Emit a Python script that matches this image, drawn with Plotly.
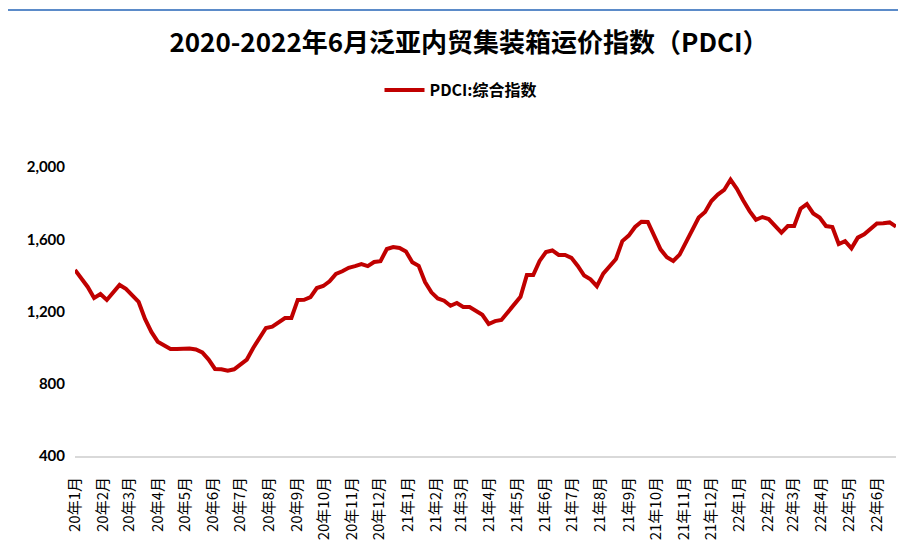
import pandas as pd
import plotly.graph_objects as go

title_text = "2020-2022年6月泛亚内贸集装箱运价指数（PDCI）"
series_name = "PDCI:综合指数"
start_date = "2020-01-01"

pdci_values = [
    1430, 1386, 1336, 1275, 1297, 1264, 1305, 1347, 1325, 1291,
    1253, 1159, 1087, 1033, 1012, 992, 992, 996, 995, 990,
    973, 934, 882, 880, 872, 880, 905, 934, 998, 1051,
    1109, 1116, 1137, 1164, 1164, 1264, 1265, 1279, 1330, 1341,
    1367, 1408, 1423, 1442, 1451, 1462, 1451, 1474, 1479, 1546,
    1557, 1552, 1532, 1473, 1453, 1363, 1306, 1272, 1260, 1232,
    1247, 1225, 1225, 1201, 1182, 1131, 1147, 1153, 1193, 1235,
    1281, 1402, 1402, 1480, 1529, 1538, 1513, 1513, 1497, 1452,
    1399, 1378, 1340, 1410, 1449, 1491, 1590, 1620, 1668, 1697,
    1696, 1615, 1544, 1500, 1480, 1515, 1585, 1655, 1720, 1751,
    1812, 1847, 1873, 1930, 1879, 1815, 1756, 1708, 1723, 1712,
    1671, 1637, 1673, 1673, 1769, 1795, 1743, 1720, 1673, 1668,
    1574, 1590, 1550, 1609, 1627, 1655, 1687, 1688, 1693, 1670,
]
week_dates = pd.date_range(start_date, periods=len(pdci_values), freq="7D")

y_ticks = [400, 800, 1200, 1600, 2000]

fig = go.Figure()
fig.add_trace(go.Scatter(
    x=week_dates, y=pdci_values, mode="lines", name=series_name,
    line=dict(color="#C00000", width=4),
))

# page has an 8px body margin; work in page pixels and convert
OFF = 8
W, H = 906 - OFF, 552 - OFF
plot_left, plot_right, plot_top, plot_bottom = 75, 896, 167, 456
ml = plot_left - OFF
mt = plot_top - OFF
mr = (W + OFF) - plot_right
mb = (H + OFF) - plot_bottom
pw, ph = plot_right - plot_left, plot_bottom - plot_top

def px_x(px):
    return (px - plot_left) / pw

def px_y(py):
    return (plot_bottom - py) / ph

fig.update_layout(
    width=W, height=H,
    margin=dict(l=ml, r=mr, t=mt, b=mb),
    paper_bgcolor="white", plot_bgcolor="white",
    title=dict(
        text="<b>" + title_text + "</b>",
        font=dict(family="Noto Sans CJK SC", size=26, color="#000000"),
        xref="container", x=(469 - OFF) / W, xanchor="center",
        yref="container", y=1 - (43 - OFF) / H, yanchor="middle",
    ),
    showlegend=True,
    legend=dict(
        orientation="h", xref="paper", x=px_x(461), xanchor="center",
        yref="paper", y=px_y(90), yanchor="middle",
        font=dict(family="Noto Sans CJK SC", size=16, color="#000000", weight="bold"),
        itemwidth=40,
    ),
    xaxis=dict(
        type="date",
        range=[week_dates[0], week_dates[-1]],
        tick0=start_date, dtick="M1",
        tickformat="%y年%-m月",
        tickangle=-90,
        tickfont=dict(family="Noto Sans CJK SC", size=15, color="#000000"),
        showgrid=False, zeroline=False,
        showline=True, linecolor="#D9D9D9", linewidth=2,
        ticks="", ticklabelstandoff=13,
    ),
    yaxis=dict(
        range=[400, 2000],
        tickvals=y_ticks,
        tickformat=",d",
        tickfont=dict(family="Lato", size=15, color="#000000", weight="bold"),
        showgrid=False, zeroline=False, showline=False,
        ticks="", ticklabelstandoff=9,
    ),
    shapes=[dict(
        type="rect", xref="paper", yref="paper",
        x0=px_x(7), x1=px_x(915),
        y0=px_y(565), y1=px_y(10),
        line=dict(color="#5B8BC9", width=2), fillcolor="rgba(0,0,0,0)",
        layer="above",
    )],
)

fig.write_html("out.html")
